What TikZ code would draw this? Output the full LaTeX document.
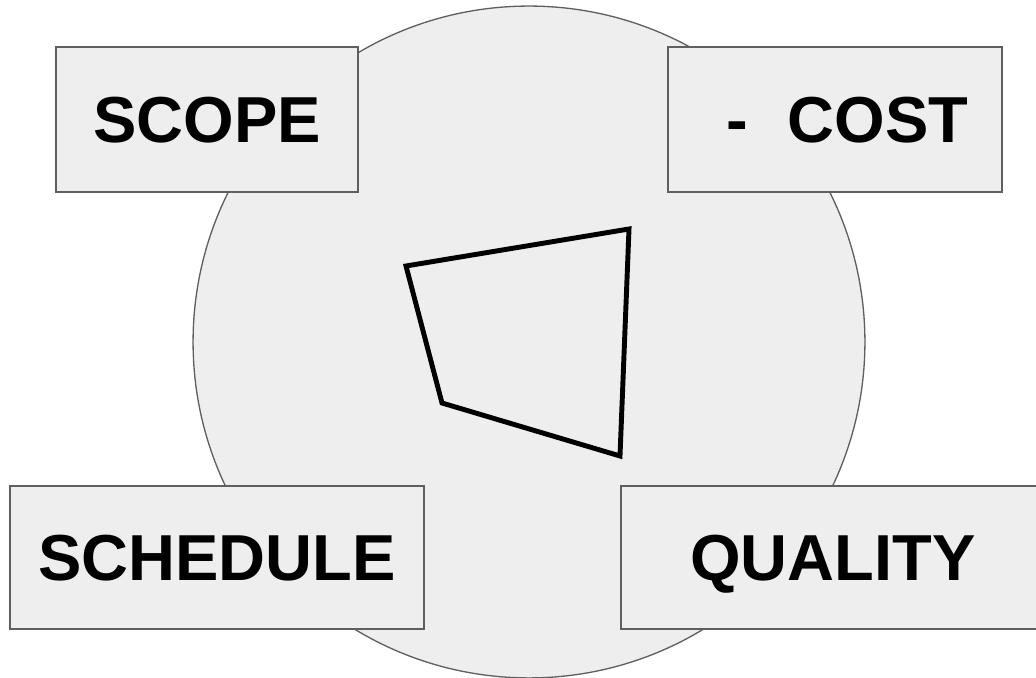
\documentclass[tikz,border=0pt]{standalone}
\usepackage{fontspec}
\setmainfont{Liberation Sans}
\usetikzlibrary{positioning}

\definecolor{panelfill}{HTML}{EEEEEE}
\definecolor{paneldraw}{HTML}{5F5F5F}

\begin{document}
\begin{tikzpicture}[
    x=0.02cm, y=-0.02cm,
    % --- BASE STYLES ---
    ring/.style={circle, minimum size=13.44cm, inner sep=0pt, fill=panelfill, draw=paneldraw, line width=0.75pt},
    tag/.style={rectangle, inner sep=0pt, fill=panelfill, draw=paneldraw, line width=0.75pt,
        font=\bfseries\fontsize{37}{44}\selectfont, text height=26.5pt, text depth=0pt},
    outline/.style={draw=black, line width=2.8pt}
]
\useasboundingbox (0,0) rectangle (1036,678);

% ==========================================
% BACKGROUND DISC
% ==========================================
\node[ring] (disc) at (529,342) {};

% ==========================================
% CORNER LABELS
% ==========================================
\node[tag, minimum width=6.04cm, minimum height=2.9cm] (scope) at (207,119.5) {SCOPE};
\node[tag, minimum width=6.68cm, minimum height=2.9cm] (cost) at (835,119.5) {\hspace{0.5cm}-\hspace{0.61em}COST};
\node[tag, minimum width=8.28cm, minimum height=2.86cm] (schedule) at (217,557.5) {SCHEDULE};
\node[tag, minimum width=8.48cm, minimum height=2.86cm] (quality) at (833,557.5) {QUALITY};

% ==========================================
% QUADRILATERAL
% ==========================================
\coordinate (q_nw) at (406,266);
\coordinate (q_ne) at (629,229);
\coordinate (q_se) at (620,456);
\coordinate (q_sw) at (442,403);
\draw[outline] (q_nw) -- (q_ne) -- (q_se) -- (q_sw) -- cycle;

\end{tikzpicture}
\end{document}
